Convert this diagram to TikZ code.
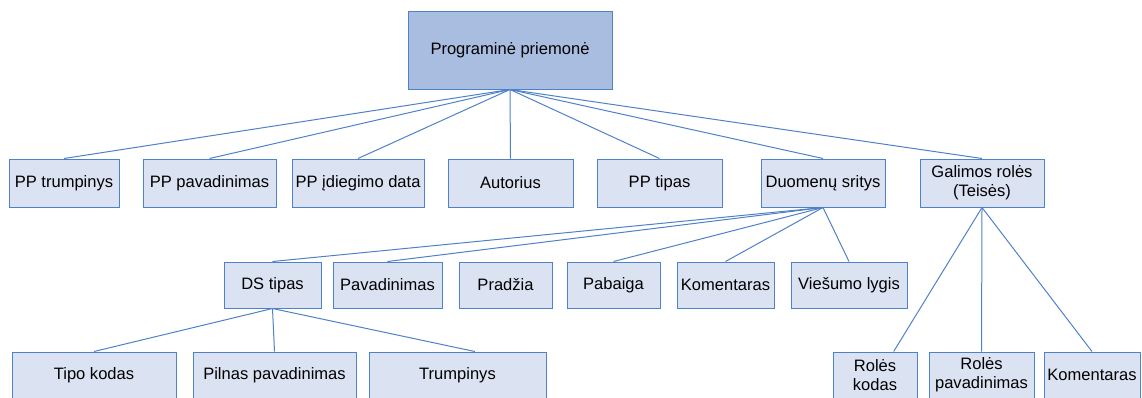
\documentclass[tikz,border=0pt]{standalone}
\usepackage{fontspec}
\setmainfont{Liberation Sans}
\usetikzlibrary{positioning}
\definecolor{rootfill}{RGB}{169,189,225}
\definecolor{leaffill}{RGB}{219,226,242}
\definecolor{edgeblue}{RGB}{79,129,200}
\begin{document}
\begin{tikzpicture}[x=0.75pt,y=-0.75pt,
	box/.style 2 args={draw=edgeblue, line width=0.75pt, fill=leaffill, inner sep=2pt,
		minimum width=#1*0.75pt, minimum height=#2*0.75pt, align=center,
		font=\fontsize{12.4pt}{14pt}\selectfont},
	link/.style={draw=edgeblue, line width=0.75pt}]
	\useasboundingbox (0,0) rectangle (1142,397);
	%\draw[help lines] (0,0) grid[step=50] (1142,397);
	\node[box={204}{78}, fill=rootfill] (prog) at (510,50) {Programinė priemonė};

	\node[box={110}{48}] (pptrump) at (64,183) {PP trumpinys};
	\node[box={133}{48}] (pppav) at (209.5,183) {PP pavadinimas};
	\node[box={132}{48}] (ppdata) at (358,183) {PP įdiegimo data};
	\node[box={125}{48}] (autor) at (510.5,183) {Autorius};
	\node[box={125}{48}] (pptipas) at (659.5,183) {PP tipas};
	\node[box={124}{48}] (dsrit) at (823,183) {Duomenų sritys};
	\node[box={124}{48}] (roles) at (982,183) {Galimos rolės\\(Teisės)};

	\node[box={97}{46}] (dstipas) at (272.5,285) {DS tipas};
	\node[box={109}{46}] (dspav) at (387.5,285) {Pavadinimas};
	\node[box={93}{46}] (dspr) at (505.5,285) {Pradžia};
	\node[box={93}{46}] (dspab) at (613.5,285) {Pabaiga};
	\node[box={97}{46}] (dskom) at (725.5,285) {Komentaras};
	\node[box={116}{46}] (dsvies) at (849,285) {Viešumo lygis};

	\node[box={164}{46}] (tkod) at (94,375) {Tipo kodas};
	\node[box={163}{46}] (tpiln) at (274.5,375) {Pilnas pavadinimas};
	\node[box={177}{46}] (ttrump) at (457.5,375) {Trumpinys};
	\node[box={84}{46}] (rkod) at (875,375) {Rolės\\kodas};
	\node[box={105}{46}] (rpav) at (981.5,375) {Rolės\\pavadinimas};
	\node[box={96}{46}] (rkom) at (1092,375) {Komentaras};

	\foreach \n in {pptrump,pppav,ppdata,autor,pptipas,dsrit,roles}
		\draw[link] (prog.south) -- (\n.north);
	\foreach \n in {dstipas,dspav,dspab,dskom,dsvies}
		\draw[link] (dsrit.south) -- (\n.north);
	\draw[link] (dstipas.south) -- (tkod.north);
	\draw[link] (dstipas.south) -- (tpiln.north);
	\draw[link] (dstipas.south) -- ([xshift=13pt]ttrump.north);
	\draw[link] (roles.south) -- ([xshift=14pt]rkod.north);
	\draw[link] (roles.south) -- (rpav.north);
	\draw[link] (roles.south) -- (rkom.north);
\end{tikzpicture}
\end{document}
